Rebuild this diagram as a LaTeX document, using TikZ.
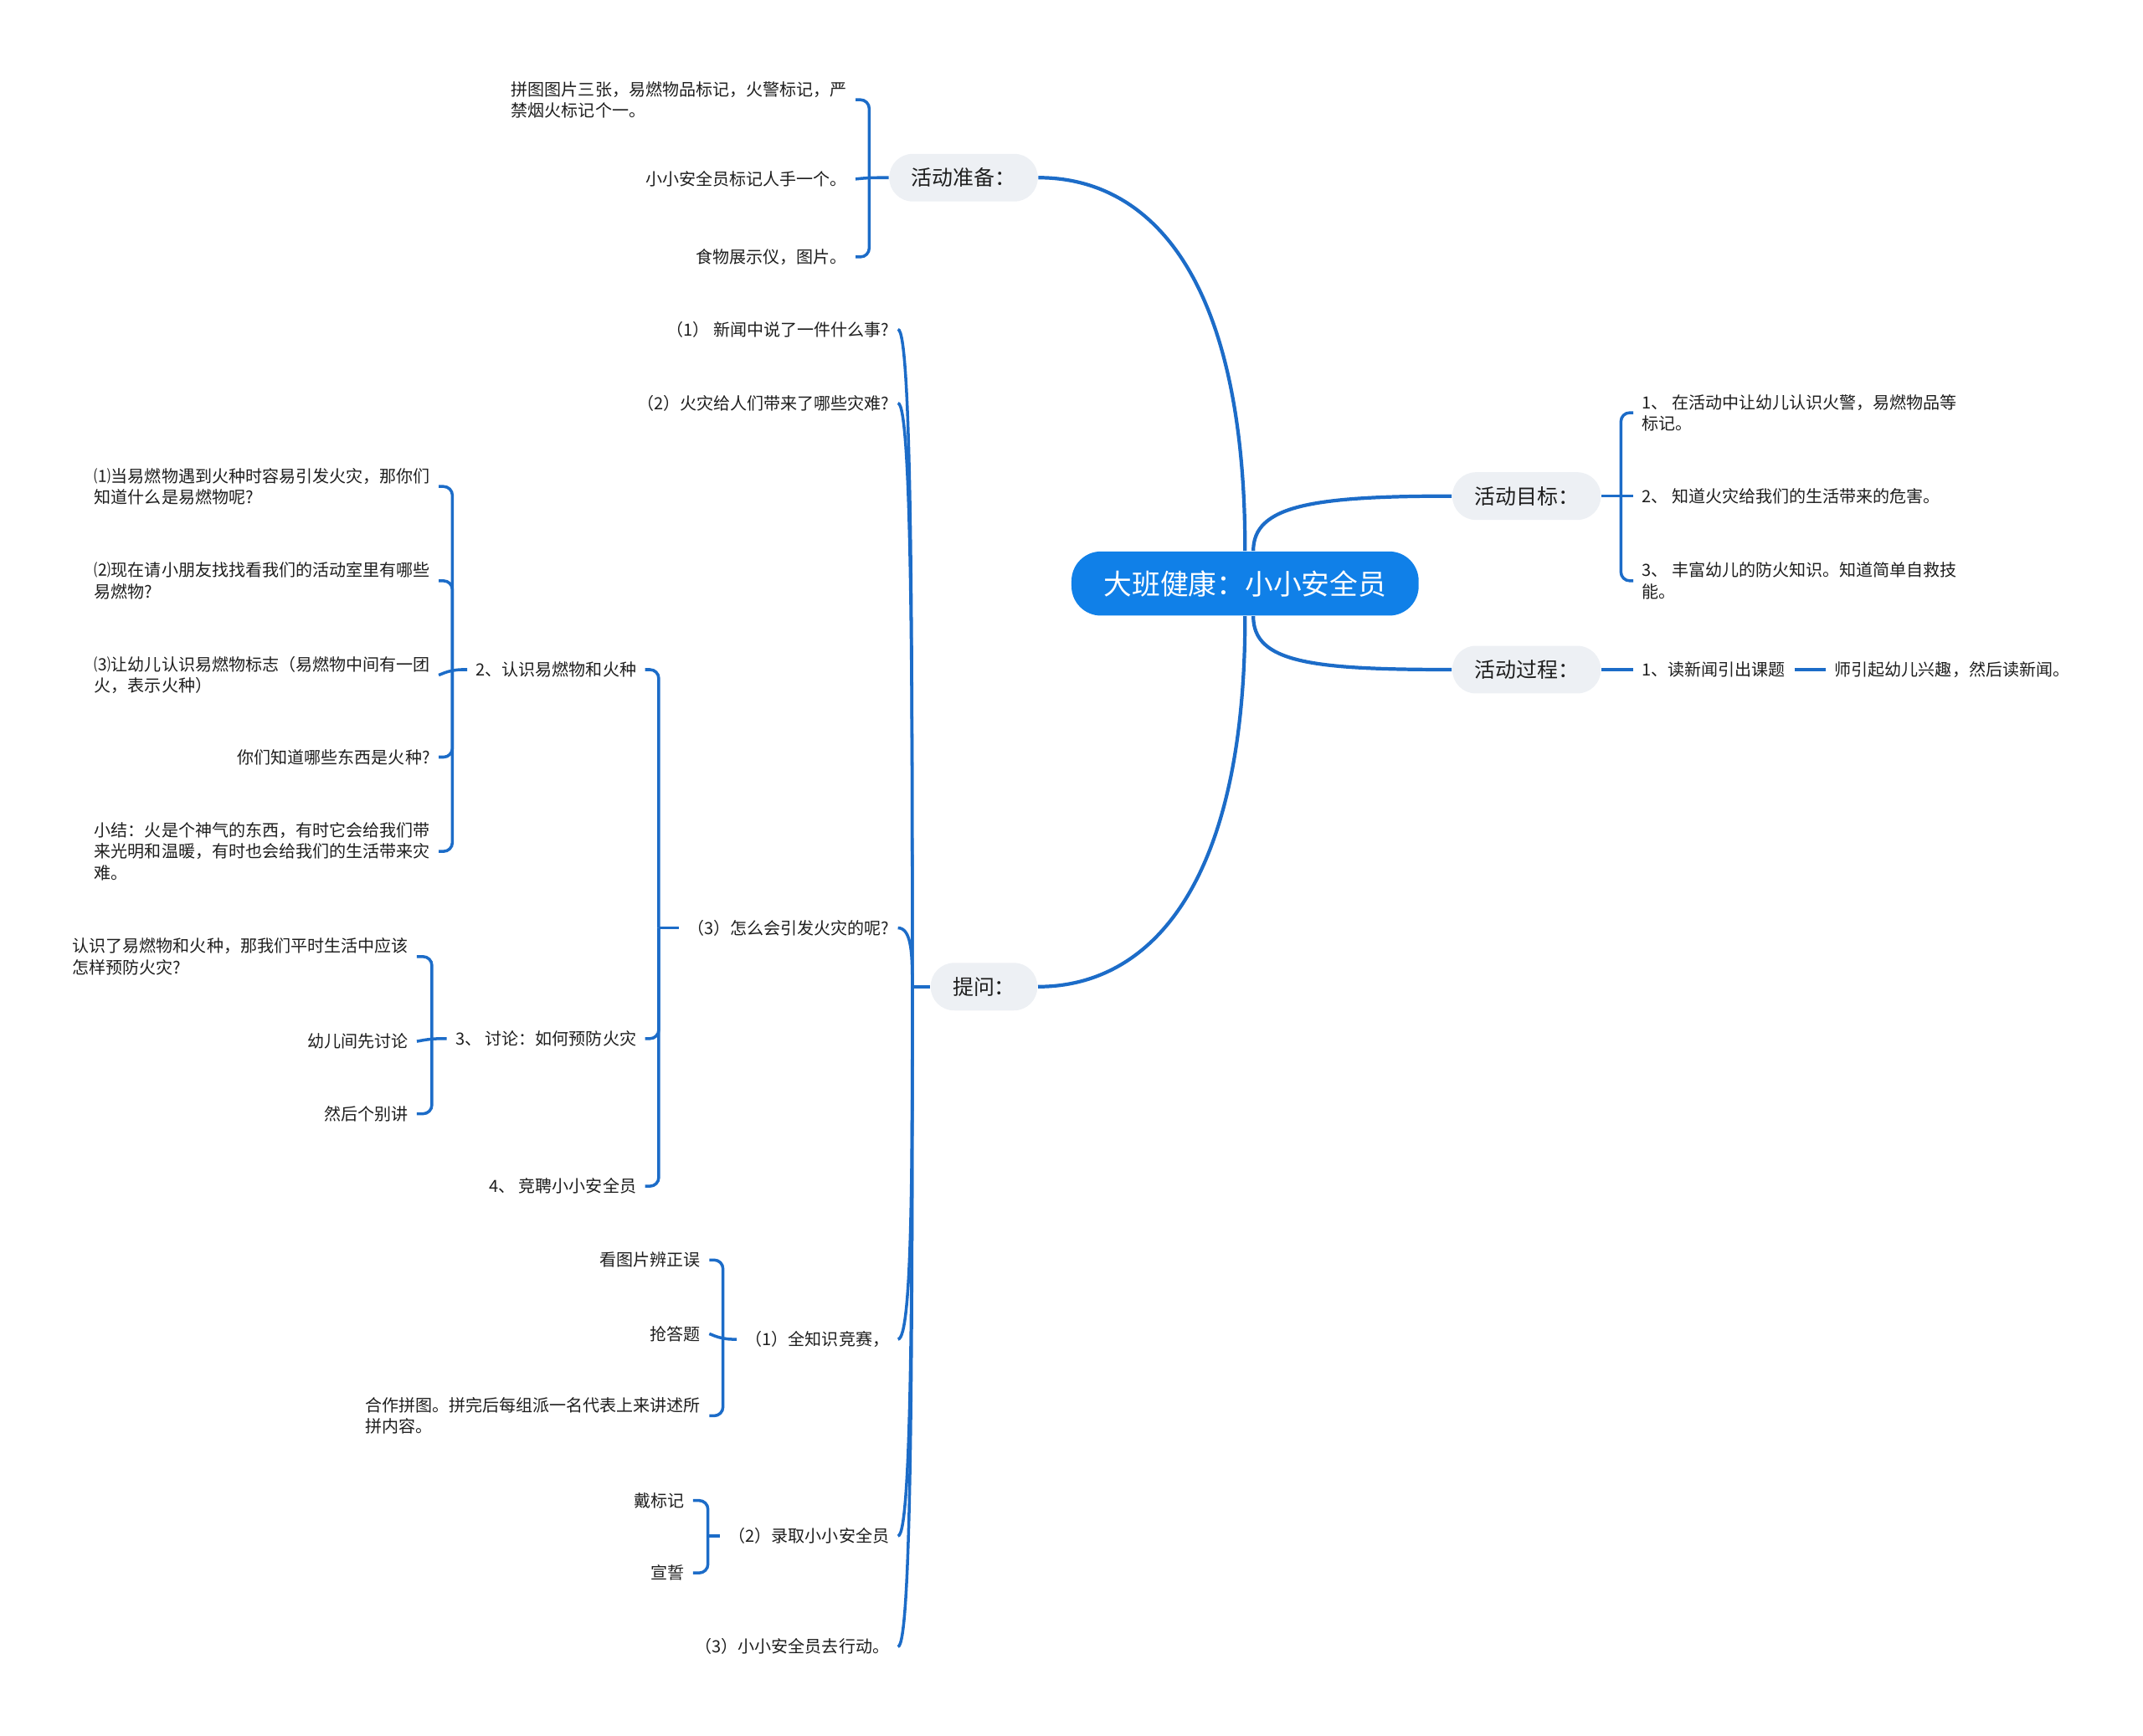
\documentclass[tikz,border=0pt]{standalone}
\usepackage{fontspec}
\setmainfont{Noto Sans CJK SC}
\usepackage{tikz}
\usetikzlibrary{calc}
\definecolor{linec}{RGB}{28,108,200}
\definecolor{rootc}{RGB}{16,128,232}
\definecolor{pillc}{RGB}{237,240,244}
\definecolor{textc}{RGB}{30,30,30}

\begin{document}
\begin{tikzpicture}[x=0.01633cm,y=-0.01633cm,
  every node/.style={inner sep=0pt,text=textc},
  rootnode/.style={fill=rootc,rounded corners=10pt,minimum height=21.8pt,inner xsep=11pt,text=white,font=\fontsize{9.6pt}{11pt}\selectfont},
  pill/.style={fill=pillc,rounded corners=8pt,minimum height=16.2pt,inner xsep=7.5pt,font=\fontsize{7.1pt}{8.5pt}\selectfont},
  leaf/.style={inner xsep=2.8pt,inner ysep=1pt,align=left,font=\fontsize{5.7pt}{7.2pt}\selectfont},
  lft/.style={leaf,anchor=east},
  rgt/.style={leaf,anchor=west},
  trunk/.style={draw=linec,line width=1.2pt},
  brace/.style={draw=linec,line width=1pt,rounded corners=3pt}]
\useasboundingbox (0,0) rectangle (1568,1270);
% root and main topics
\node[rootnode] (root) at (911,427) {大班健康：小小安全员};
\node[pill] (prep) at (705,130) {活动准备：};
\node[pill] (goal) at (1117,363) {活动目标：};
\node[pill] (proc) at (1117,490) {活动过程：};
\node[pill] (ask) at (720,722) {提问：};
\draw[trunk] (root.north) .. controls (911,200) and (840,130) .. (prep.east);
\draw[trunk] (root.south) .. controls (911,650) and (840,722) .. (ask.east);
\draw[trunk] ([xshift=2.8pt]root.north) .. controls (917,370) and (960,363) .. (goal.west);
\draw[trunk] ([xshift=2.8pt]root.south) .. controls (917,485) and (960,490) .. (proc.west);
% preparation
\node[lft] (pa) at (626,73) {拼图图片三张，易燃物品标记，火警标记，严\\禁烟火标记个一。};
\node[lft] (pb) at (626,131) {小小安全员标记人手一个。};
\node[lft] (pc) at (626,188) {食物展示仪，图片。};
\coordinate (prepsp) at (636,130);
\draw[brace] (prep.west) -- (prepsp) -- (pb.east);
\foreach \c in {pa,pc} \draw[brace] (prepsp) |- (\c.east);
% goals
\node[rgt] (ga) at (1195,302) {1、 在活动中让幼儿认识火警，易燃物品等\\标记。};
\node[rgt] (gb) at (1195,363) {2、 知道火灾给我们的生活带来的危害。};
\node[rgt] (gc) at (1195,425) {3、 丰富幼儿的防火知识。知道简单自救技\\能。};
\coordinate (goalsp) at (1186,363);
\draw[brace] (goal.east) -- (goalsp) -- (gb.west);
\foreach \c in {ga,gc} \draw[brace] (goalsp) |- (\c.west);
% process
\node[rgt] (na) at (1195,490) {1、读新闻引出课题};
\node[rgt] (nb) at (1336,490) {师引起幼儿兴趣，然后读新闻。};
\draw[brace] (proc.east) -- (na.west);
\draw[brace] (na.east) -- (nb.west);
% questions
\node[lft] (qa) at (657,241) {（1） 新闻中说了一件什么事?};
\node[lft] (qb) at (657,295) {（2）火灾给人们带来了哪些灾难?};
\node[lft] (qc) at (657,679) {（3）怎么会引发火灾的呢?};
\node[lft] (qd) at (657,980) {（1）全知识竞赛，};
\node[lft] (qe) at (657,1124) {（2）录取小小安全员};
\node[lft] (qf) at (657,1205) {（3）小小安全员去行动。};
\coordinate (asksp) at (667.5,722);
\draw[brace] (ask.west) -- (asksp);
\foreach \c in {qa,qb,qc,qd,qe,qf}
  \draw[brace] (asksp) .. controls ($(asksp)!0.5!(asksp |- \c.east)$) and (asksp |- \c.east) .. (\c.east);
% how fires start
\node[lft] (ra) at (472,490) {2、认识易燃物和火种};
\node[lft] (rb) at (472,760) {3、 讨论：如何预防火灾};
\node[lft] (rc) at (472,868) {4、 竞聘小小安全员};
\coordinate (qcsp) at (482,679);
\draw[brace] (qc.west) -- (qcsp);
\foreach \c in {ra,rb,rc} \draw[brace] (qcsp) |- (\c.east);
\node[lft] (sa) at (321,356) {⑴当易燃物遇到火种时容易引发火灾，那你们\\知道什么是易燃物呢?};
\node[lft] (sb) at (321,425) {⑵现在请小朋友找找看我们的活动室里有哪些\\易燃物?};
\node[lft] (sc) at (321,494) {⑶让幼儿认识易燃物标志（易燃物中间有一团\\火，表示火种）};
\node[lft] (sd) at (321,554) {你们知道哪些东西是火种?};
\node[lft] (se) at (321,623) {小结：火是个神气的东西，有时它会给我们带\\来光明和温暖，有时也会给我们的生活带来灾\\难。};
\coordinate (rasp) at (331,490);
\draw[brace] (ra.west) -- (rasp) -- (sc.east);
\foreach \c in {sa,sb,sd,se} \draw[brace] (rasp) |- (\c.east);
\node[lft] (ta) at (305,700) {认识了易燃物和火种，那我们平时生活中应该\\怎样预防火灾?};
\node[lft] (tb) at (305,762) {幼儿间先讨论};
\node[lft] (tc) at (305,815) {然后个别讲};
\coordinate (rbsp) at (316,760);
\draw[brace] (rb.west) -- (rbsp) -- (tb.east);
\foreach \c in {ta,tc} \draw[brace] (rbsp) |- (\c.east);
% contest
\node[lft] (ua) at (519,922) {看图片辨正误};
\node[lft] (ub) at (519,976) {抢答题};
\node[lft] (uc) at (519,1036) {合作拼图。拼完后每组派一名代表上来讲述所\\拼内容。};
\coordinate (qdsp) at (529,980);
\draw[brace] (qd.west) -- (qdsp) -- (ub.east);
\foreach \c in {ua,uc} \draw[brace] (qdsp) |- (\c.east);
% selection
\node[lft] (va) at (507,1098) {戴标记};
\node[lft] (vb) at (507,1151) {宣誓};
\coordinate (qesp) at (518,1124);
\draw[brace] (qe.west) -- (qesp);
\foreach \c in {va,vb} \draw[brace] (qesp) |- (\c.east);
\end{tikzpicture}
\end{document}
